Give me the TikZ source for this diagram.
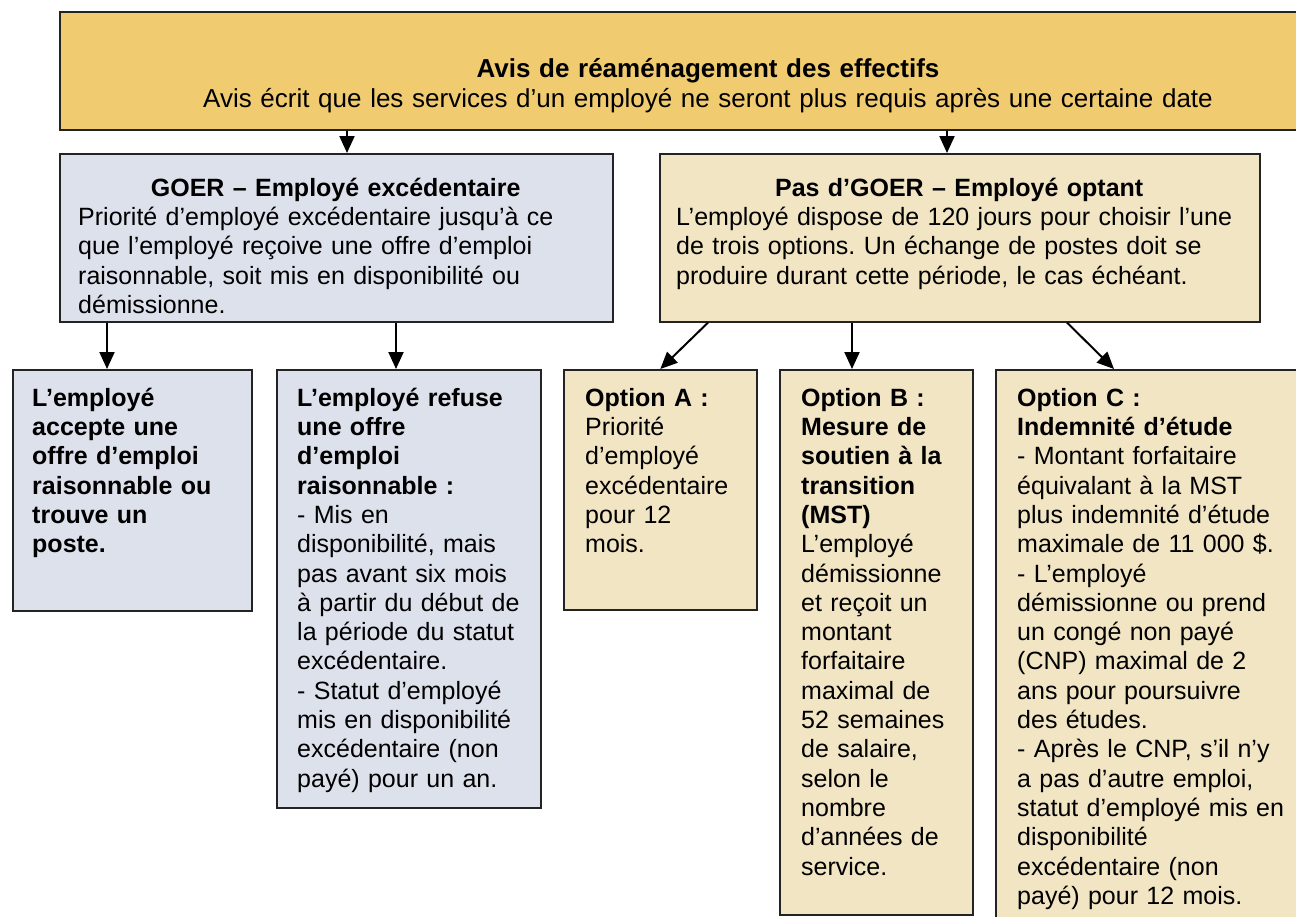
\documentclass[tikz,border=0pt]{standalone}
\usepackage{fontspec}
\setmainfont{Liberation Sans}
\usetikzlibrary{arrows.meta}
\definecolor{avisgold}{HTML}{F0CB70}
\definecolor{goerblue}{HTML}{DDE1EC}
\definecolor{optantan}{HTML}{F2E5C4}
\definecolor{edgegray}{HTML}{232323}
\newcommand{\boxfont}{\fontsize{25}{29.3}\selectfont}
\newcommand{\avisfont}{\fontsize{26}{30.5}\selectfont}
\frenchspacing

\begin{document}
\begin{tikzpicture}[x=1pt,y=-1pt,
  box/.style={draw=edgegray,line width=1.6pt,anchor=north west,inner sep=0pt},
  txt/.style={anchor=north west,inner sep=0pt,align=left,text width=#1,font=\boxfont,execute at begin node=\strut},
  txt/.default=300,
  link/.style={-{Triangle[length=17pt,width=15pt]},line width=2pt}]
\useasboundingbox (0,0) rectangle (1296,916);
\clip (0,0) rectangle (1296,916);

% Notice
\node[box,fill=avisgold,minimum width=1300,minimum height=118] (avis) at (59,11) {};
\node[txt=1250,align=center,anchor=north,font=\avisfont] (avistxt) at (708,55.5) {\textbf{Avis de réaménagement des effectifs}\\Avis écrit que les services d’un employé ne seront plus requis après une certaine date};

% Surplus / opting
\node[box,fill=goerblue,minimum width=553,minimum height=168] (goer) at (59,153) {};
\node[txt=560] (goertxt) at (78,175.5) {\makebox[515pt]{\bfseries GOER – Employé excédentaire}\\Priorité d’employé excédentaire jusqu’à ce\\que l’employé reçoive une offre d’emploi\\raisonnable, soit mis en disponibilité ou\\démissionne.};
\node[box,fill=optantan,minimum width=600,minimum height=168] (pas) at (659,153) {};
\node[txt=620] (pastxt) at (676,175.5) {\makebox[566pt]{\bfseries Pas d’GOER – Employé optant}\\L’employé dispose de 120 jours pour choisir l’une\\de trois options. Un échange de postes doit se\\produire durant cette période, le cas échéant.};

% Outcomes
\node[box,fill=goerblue,minimum width=239,minimum height=241] (accepte) at (12,369) {};
\node[txt] (acceptetxt) at (32,385.5) {\bfseries L’employé\\accepte une\\offre d’emploi\\raisonnable ou\\trouve un\\poste.};
\node[box,fill=goerblue,minimum width=264,minimum height=438] (refuse) at (276,369) {};
\node[txt] (refusetxt) at (297,385.5) {\bfseries L’employé refuse\\une offre\\d’emploi\\raisonnable :\\\mdseries - Mis en\\disponibilité, mais\\pas avant six mois\\à partir du début de\\la période du statut\\excédentaire.\\- Statut d’employé\\mis en disponibilité\\excédentaire (non\\payé) pour un an.};
\node[box,fill=optantan,minimum width=193,minimum height=240] (optA) at (563,369) {};
\node[txt] (optAtxt) at (585,385.5) {\bfseries Option A :\\\mdseries Priorité\\d’employé\\excédentaire\\pour 12\\mois.};
\node[box,fill=optantan,minimum width=193,minimum height=545] (optB) at (779,369) {};
\node[txt] (optBtxt) at (801,385.5) {\bfseries Option B :\\Mesure de\\soutien à la\\transition\\(MST)\\\mdseries L’employé\\démissionne\\et reçoit un\\montant\\forfaitaire\\maximal de\\52 semaines\\de salaire,\\selon le\\nombre\\d’années de\\service.};
\node[box,fill=optantan,minimum width=340,minimum height=600] (optC) at (995,369) {};
\node[txt] (optCtxt) at (1017,385.5) {\bfseries Option C :\\Indemnité d’étude\\\mdseries - Montant forfaitaire\\équivalant à la MST\\plus indemnité d’étude\\maximale de 11 000 \$.\\- L’employé\\démissionne ou prend\\un congé non payé\\(CNP) maximal de 2\\ans pour poursuivre\\des études.\\- Après le CNP, s’il n’y\\a pas d’autre emploi,\\statut d’employé mis en\\disponibilité\\excédentaire (non\\payé) pour 12 mois.};

% Arrows
\draw[link] ([xshift=288]avis.south west) -- ([xshift=288]goer.north west);
\draw[link] ([xshift=888]avis.south west) -- ([xshift=288]pas.north west);
\draw[link] ([xshift=48]goer.south west) -- ([xshift=95]accepte.north west);
\draw[link] ([xshift=337]goer.south west) -- ([xshift=120]refuse.north west);
\draw[link] ([xshift=49]pas.south west) -- (optA.north);
\draw[link] ([xshift=193]pas.south west) -- ([xshift=73]optB.north west);
\draw[link] ([xshift=408]pas.south west) -- ([xshift=119]optC.north west);
\end{tikzpicture}
\end{document}
